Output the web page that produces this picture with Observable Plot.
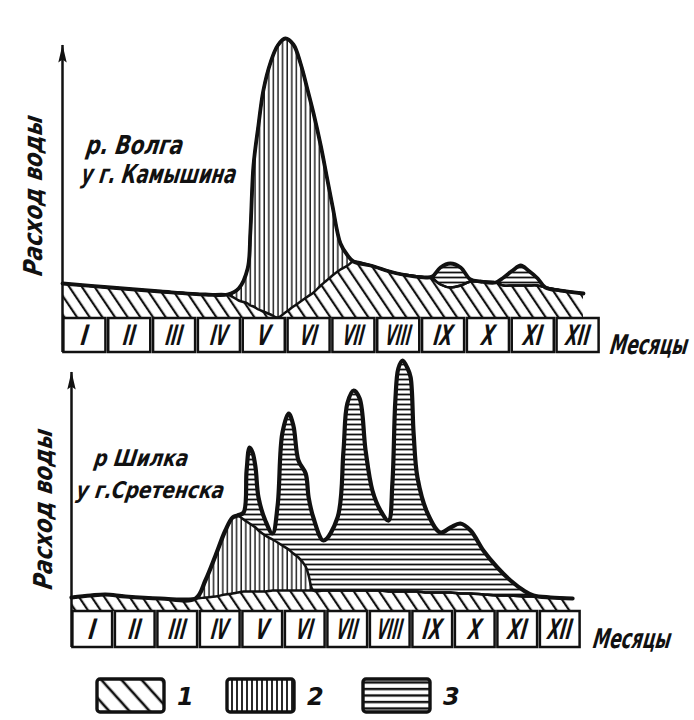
<!DOCTYPE html>
<html><head><meta charset="utf-8">
<script src="https://cdn.jsdelivr.net/npm/d3@7"></script>
<script src="https://cdn.jsdelivr.net/npm/@observablehq/plot@0.6"></script>
<style>
body{margin:0;background:#fff;width:694px;height:720px;overflow:hidden;position:relative;}
#top{position:absolute;left:0;top:0}
#bot{position:absolute;left:0;top:352px}
#legend{position:absolute;left:0;top:660px}
</style></head><body>
<svg width="0" height="0" style="position:absolute">
<defs>
<pattern id="hDiag" patternUnits="userSpaceOnUse" width="10.5" height="20" patternTransform="rotate(-34)"><line x1="2" y1="-2" x2="2" y2="22" stroke="#111" stroke-width="2.2"/></pattern>
<pattern id="hVert" patternUnits="userSpaceOnUse" width="4.6" height="20"><line x1="2" y1="-2" x2="2" y2="22" stroke="#111" stroke-width="1.4"/></pattern>
<pattern id="hHorz" patternUnits="userSpaceOnUse" width="20" height="5"><line x1="-2" y1="2.5" x2="22" y2="2.5" stroke="#111" stroke-width="1.8"/></pattern>
<pattern id="lDiag" patternUnits="userSpaceOnUse" width="15" height="20" patternTransform="rotate(-42)"><line x1="2" y1="-2" x2="2" y2="22" stroke="#111" stroke-width="2.6"/></pattern>
<pattern id="lVert" patternUnits="userSpaceOnUse" width="5" height="20"><line x1="2" y1="-2" x2="2" y2="22" stroke="#111" stroke-width="1.8"/></pattern>
<pattern id="lHorz" patternUnits="userSpaceOnUse" width="20" height="6.5"><line x1="-2" y1="3" x2="22" y2="3" stroke="#111" stroke-width="2.4"/></pattern>
</defs></svg>
<div id="top"></div>
<div id="bot"></div>
<div id="legend"></div>
<script>
// ---------- data ----------
const months = ["I","II","III","IV","V","VI","VII","VIII","IX","X","XI","XII"];
const legendLabels = ["1","2","3"];
const axisLabel = "Расход воды";
const monthsLabel = "Месяцы";
const volgaLabel = ["р. Волга", "у г. Камышина"];
const shilkaLabel = ["р Шилка", "у г.Сретенска"];

// р. Волга у г. Камышина (month position, relative discharge)
const volgaMonth  = [0,1.07,2.19,3.19,3.68,3.93,4.13,4.19,4.26,4.37,4.48,4.64,4.80,4.97,5.15,5.31,5.47,5.60,5.76,5.89,6.02,6.20,6.36,6.49,6.87,7.47,8.14,8.25,8.43,8.65,8.88,9.10,9.32,9.66,9.84,10.04,10.22,10.39,10.60,10.77,11.11,11.62];
const volgaTotal  = [35,31,27,24,24,30,50,86,153,193,228,256,273,280,274,255,228,205,173,143,113,75,63,57,53,45,41,42,51,55,51,39,37,36,41,48,53,48,40,31,28,25];
const volgaSnow   = [35,31,27,24,24,30,50,86,153,193,228,256,273,280,274,255,228,205,173,143,113,75,63,57,53,45,41,40,34,31,33,37,37,36,33,33,33,33,33,31,28,25];
const volgaGround = [35,31,27,24,24,18,15,13,12,9,7,4,1,6,12,17,22,26,33,38,43,49,53,57,53,45,41,40,34,31,33,37,37,36,33,33,33,33,33,31,28,25];

// р. Шилка у г. Сретенска
const shilkaMonth  = [0,0.45,0.80,1.27,2.09,2.92,3.15,3.39,3.62,3.79,3.91,4.05,4.12,4.19,4.26,4.33,4.40,4.56,4.73,4.85,4.96,5.11,5.22,5.34,5.51,5.58,5.69,5.93,6.26,6.40,6.49,6.64,6.78,6.92,7.08,7.27,7.46,7.55,7.62,7.69,7.79,7.91,7.98,8.05,8.14,8.38,8.68,8.92,9.15,9.39,9.69,10.02,10.33,10.64,10.87,11.27,11.79];
const shilkaTotal  = [14,16,17,15,13,13,31,56,81,94,96,99,141,164,159,144,114,91,78,106,178,198,186,151,138,114,94,71,94,161,208,221,213,161,121,101,91,128,211,243,251,243,234,178,134,98,79,84,88,81,61,44,31,21,16,14,13];
const shilkaSnow   = [14,16,17,15,13,13,31,56,81,94,96,92,90,88,86,84,81,76,72,69,66,62,58,54,45,36,21,21,21,21,21,21,21,21,21,21,20,20,20,20,20,20,20,20,20,19,19,19,18,18,17,16,16,15,15,14,13];
const shilkaGround = [14,16,17,15,13,13,14,15,17,18,19,20,20,20,20,20,20,20,21,21,21,21,21,21,21,21,21,21,21,21,21,21,21,21,21,21,20,20,20,20,20,20,20,20,20,19,19,19,18,18,17,16,16,15,15,14,13];

const volga  = volgaMonth.map((m,i)=>({m, t: volgaTotal[i], s: volgaSnow[i], g: volgaGround[i]}));
const shilka = shilkaMonth.map((m,i)=>({m, t: shilkaTotal[i], s: shilkaSnow[i], g: shilkaGround[i]}));

// ---------- style ----------
const INK = "#111";
const FONT = "'DejaVu Sans','Liberation Sans',sans-serif";
// target widths (px) to mimic the tall condensed hand lettering
const textWidths = {I:7, II:12, III:17, IV:17, V:13, VI:17, VII:21, VIII:25, IX:19, X:13, XI:19, XII:24,
  "Месяцы":78, "Расход воды":160, "р. Волга":97, "у г. Камышина":155, "р Шилка":94, "у г.Сретенска":148};
const arrowHead = {draw(ctx){ ctx.moveTo(0,-1); ctx.lineTo(4.2,17); ctx.lineTo(0,14); ctx.lineTo(-4.2,17); ctx.closePath(); }};

function condense(svg) {
  svg.querySelectorAll("text").forEach(el => {
    const w = textWidths[el.textContent];
    if (!w) return;
    const sx = w / el.getComputedTextLength();
    const tr = el.getAttribute("transform");
    if (tr && !el.hasAttribute("x")) {
      el.setAttribute("transform", `${tr} skewX(-9) scale(${sx},1)`);
    } else {
      const x = +(el.getAttribute("x") || 0), y = +(el.getAttribute("y") || 0);
      el.setAttribute("transform", `${tr || ""} translate(${x},${y}) skewX(-9) scale(${sx},1) translate(${-x},${-y})`);
    }
  });
}

function chart({data, river, riverPos, riverSize, width, height, mLeft, mRight, mTop, mBottom, yDomain, strip, axisTop, ylab, mesDx, mesY, totalW}) {
  const curve = "catmull-rom";
  const monthRows = months.map((name,i)=>({name, i}));
  const riverRows = river.map((text,i)=>({text, ...riverPos[i]}));
  const txt = {fontFamily: FONT, fontStyle: "italic", fontWeight: "bold", fill: INK};
  return Plot.plot({
    width, height, marginLeft: mLeft, marginRight: mRight, marginTop: mTop, marginBottom: mBottom,
    x: {domain: [0,12], axis: null},
    y: {domain: yDomain, axis: null},
    style: {background: "transparent", overflow: "visible"},
    marks: [
      Plot.areaY(data, {x: "m", y1: 0, y2: "g", fill: "url(#hDiag)", curve}),
      Plot.areaY(data, {x: "m", y1: "g", y2: "s", fill: "url(#hVert)", curve}),
      Plot.areaY(data, {x: "m", y1: "s", y2: "t", fill: "url(#hHorz)", curve}),
      Plot.line(data, {x: "m", y: "g", stroke: INK, strokeWidth: 2.5, curve}),
      Plot.line(data, {x: "m", y: "s", stroke: INK, strokeWidth: 2.5, curve}),
      Plot.line(data, {x: "m", y: "t", stroke: INK, strokeWidth: totalW, curve, strokeLinejoin: "round"}),
      // month strip
      Plot.rect(monthRows, {x1: d=>d.i, x2: d=>d.i+1, y1: strip, y2: 0, fill: "white", stroke: INK, strokeWidth: 2.5, insetLeft: 1.4, insetRight: 1.4}),
      Plot.text(monthRows, {x: d=>d.i+0.5, y: strip/2, dy: 1, text: "name", ...txt, fontSize: 28}),
      Plot.text([monthsLabel], {x: 12, y: mesY, dx: mesDx, text: d=>d, textAnchor: "start", ...txt, fontSize: 27}),
      // axis with arrow
      Plot.ruleX([0], {y1: strip, y2: axisTop, stroke: INK, strokeWidth: 2.5}),
      Plot.dot([{x: 0, y: axisTop}], {x: "x", y: "y", symbol: arrowHead, fill: INK, stroke: "none", r: 5}),
      Plot.text([axisLabel], {frameAnchor: "left", dx: ylab[0], dy: ylab[1], rotate: -90, text: d=>d, textAnchor: "middle", ...txt, fontSize: 26}),
      ...riverRows.map(r => Plot.text([r.text], {frameAnchor: "top-left", dx: r.dx, dy: r.dy, text: d=>d, textAnchor: "start", lineAnchor: "bottom", ...txt, fontSize: riverSize}))
    ]
  });
}

const topSvg = chart({
  data: volga, river: volgaLabel, riverPos: [{dx: 23, dy: 117}, {dx: 18, dy: 146}], riverSize: 26,
  width: 694, height: 360, mLeft: 62, mRight: 94, mTop: 36, mBottom: 8, yDomain: [-34, 282], strip: -34, axisTop: 273,
  ylab: [-29, 1], mesDx: 10, mesY: -27, totalW: 3.8
});
document.getElementById("top").append(topSvg);
condense(topSvg);

const botSvg = chart({
  data: shilka, river: shilkaLabel, riverPos: [{dx: 22, dy: 109}, {dx: 4, dy: 141}], riverSize: 23,
  width: 694, height: 306, mLeft: 71, mRight: 113, mTop: 4, mBottom: 11, yDomain: [-36, 255], strip: -36, axisTop: 239,
  ylab: [-28, 7], mesDx: 12, mesY: -28, totalW: 4.2
});
document.getElementById("bot").append(botSvg);
condense(botSvg);

// legend
const leg = d3.create("svg").attr("width", 694).attr("height", 60);
const lx = [97, 227, 363];
const lpat = ["lDiag","lVert","lHorz"];
legendLabels.forEach((lab, i) => {
  leg.append("rect").attr("x", lx[i]).attr("y", 19).attr("width", 67).attr("height", 33).attr("rx", 3)
    .attr("fill", `url(#${lpat[i]})`).attr("stroke", INK).attr("stroke-width", 3.4);
  leg.append("text").attr("x", lx[i] + 80).attr("y", 45).text(lab)
    .attr("font-family", FONT).attr("font-style", "italic").attr("font-weight", "bold").attr("font-size", 24).attr("fill", INK);
});
document.getElementById("legend").append(leg.node());
</script>
</body></html>
